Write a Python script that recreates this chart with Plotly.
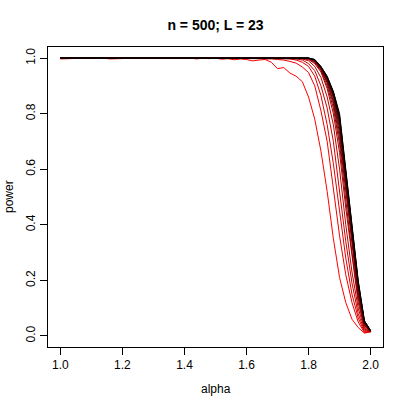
import plotly.graph_objects as go

alpha = [1.00, 1.02, 1.04, 1.06, 1.08, 1.10, 1.12, 1.14, 1.16, 1.18,
         1.20, 1.22, 1.24, 1.26, 1.28, 1.30, 1.32, 1.34, 1.36, 1.38,
         1.40, 1.42, 1.44, 1.46, 1.48, 1.50, 1.52, 1.54, 1.56, 1.58,
         1.60, 1.62, 1.64, 1.66, 1.68, 1.70, 1.72, 1.74, 1.76, 1.78,
         1.80, 1.82, 1.84, 1.86, 1.88, 1.90, 1.92, 1.94, 1.96, 1.98, 2.00]

x_ticks = [1.0, 1.2, 1.4, 1.6, 1.8, 2.0]
x_tick_labels = ["1.0", "1.2", "1.4", "1.6", "1.8", "2.0"]
y_ticks = [0.0, 0.2, 0.4, 0.6, 0.8, 1.0]
y_tick_labels = ["0.0", "0.2", "0.4", "0.6", "0.8", "1.0"]

power_01 = [0.997, 0.998, 1.0, 1.0, 1.0, 1.0, 1.0, 1.0, 0.997, 0.998,
            1.0, 1.0, 1.0, 1.0, 1.0, 1.0, 1.0, 1.0, 1.0, 1.0,
            1.0, 1.0, 0.997, 1.0, 0.998, 1.0, 0.996, 0.998, 0.994, 0.997,
            0.995, 0.99, 0.993, 0.995, 0.985, 0.962, 0.966, 0.946, 0.935, 0.915,
            0.86, 0.78, 0.665, 0.52, 0.35, 0.21, 0.12, 0.06, 0.03, 0.01, 0.015]
power_02 = [1.0, 1.0, 1.0, 1.0, 1.0, 1.0, 1.0, 1.0, 1.0, 1.0,
            1.0, 1.0, 1.0, 1.0, 1.0, 1.0, 1.0, 1.0, 1.0, 1.0,
            1.0, 1.0, 1.0, 1.0, 1.0, 1.0, 0.998, 1.0, 0.998, 1.0,
            1.0, 0.998, 1.0, 0.997, 0.998, 0.995, 0.993, 0.988, 0.982, 0.968,
            0.948, 0.90, 0.81, 0.70, 0.53, 0.36, 0.22, 0.12, 0.05, 0.012, 0.015]
power_03 = [1.0, 1.0, 1.0, 1.0, 1.0, 1.0, 1.0, 1.0, 1.0, 1.0,
            1.0, 1.0, 1.0, 1.0, 1.0, 1.0, 1.0, 1.0, 1.0, 1.0,
            1.0, 1.0, 1.0, 1.0, 1.0, 1.0, 1.0, 1.0, 1.0, 1.0,
            1.0, 1.0, 1.0, 1.0, 1.0, 0.998, 0.998, 0.997, 0.993, 0.985,
            0.97, 0.935, 0.865, 0.76, 0.62, 0.45, 0.28, 0.15, 0.065, 0.015, 0.015]
power_04 = [1.0, 1.0, 1.0, 1.0, 1.0, 1.0, 1.0, 1.0, 1.0, 1.0,
            1.0, 1.0, 1.0, 1.0, 1.0, 1.0, 1.0, 1.0, 1.0, 1.0,
            1.0, 1.0, 1.0, 1.0, 1.0, 1.0, 1.0, 1.0, 1.0, 1.0,
            1.0, 1.0, 1.0, 1.0, 1.0, 1.0, 1.0, 0.999, 0.997, 0.993,
            0.98, 0.955, 0.90, 0.82, 0.70, 0.52, 0.34, 0.19, 0.08, 0.02, 0.015]
power_05 = [1.0, 1.0, 1.0, 1.0, 1.0, 1.0, 1.0, 1.0, 1.0, 1.0,
            1.0, 1.0, 1.0, 1.0, 1.0, 1.0, 1.0, 1.0, 1.0, 1.0,
            1.0, 1.0, 1.0, 1.0, 1.0, 1.0, 1.0, 1.0, 1.0, 1.0,
            1.0, 1.0, 1.0, 1.0, 1.0, 1.0, 1.0, 1.0, 0.999, 0.997,
            0.99, 0.97, 0.93, 0.86, 0.76, 0.60, 0.40, 0.23, 0.10, 0.025, 0.015]
power_06 = [1.0, 1.0, 1.0, 1.0, 1.0, 1.0, 1.0, 1.0, 1.0, 1.0,
            1.0, 1.0, 1.0, 1.0, 1.0, 1.0, 1.0, 1.0, 1.0, 1.0,
            1.0, 1.0, 1.0, 1.0, 1.0, 1.0, 1.0, 1.0, 1.0, 1.0,
            1.0, 1.0, 1.0, 1.0, 1.0, 1.0, 1.0, 1.0, 1.0, 0.999,
            0.995, 0.98, 0.95, 0.89, 0.80, 0.66, 0.46, 0.28, 0.12, 0.03, 0.015]
power_07 = [1.0, 1.0, 1.0, 1.0, 1.0, 1.0, 1.0, 1.0, 1.0, 1.0,
            1.0, 1.0, 1.0, 1.0, 1.0, 1.0, 1.0, 1.0, 1.0, 1.0,
            1.0, 1.0, 1.0, 1.0, 1.0, 1.0, 1.0, 1.0, 1.0, 1.0,
            1.0, 1.0, 1.0, 1.0, 1.0, 1.0, 1.0, 1.0, 1.0, 1.0,
            0.997, 0.984, 0.955, 0.90, 0.82, 0.69, 0.49, 0.30, 0.135, 0.035, 0.016]
power_08 = [1.0, 1.0, 1.0, 1.0, 1.0, 1.0, 1.0, 1.0, 1.0, 1.0,
            1.0, 1.0, 1.0, 1.0, 1.0, 1.0, 1.0, 1.0, 1.0, 1.0,
            1.0, 1.0, 1.0, 1.0, 1.0, 1.0, 1.0, 1.0, 1.0, 1.0,
            1.0, 1.0, 1.0, 1.0, 1.0, 1.0, 1.0, 1.0, 1.0, 1.0,
            0.998, 0.987, 0.958, 0.91, 0.835, 0.71, 0.515, 0.32, 0.145, 0.038, 0.016]
power_09 = [1.0, 1.0, 1.0, 1.0, 1.0, 1.0, 1.0, 1.0, 1.0, 1.0,
            1.0, 1.0, 1.0, 1.0, 1.0, 1.0, 1.0, 1.0, 1.0, 1.0,
            1.0, 1.0, 1.0, 1.0, 1.0, 1.0, 1.0, 1.0, 1.0, 1.0,
            1.0, 1.0, 1.0, 1.0, 1.0, 1.0, 1.0, 1.0, 1.0, 1.0,
            0.998, 0.989, 0.961, 0.915, 0.845, 0.73, 0.535, 0.335, 0.155, 0.041, 0.017]
power_10 = [1.0, 1.0, 1.0, 1.0, 1.0, 1.0, 1.0, 1.0, 1.0, 1.0,
            1.0, 1.0, 1.0, 1.0, 1.0, 1.0, 1.0, 1.0, 1.0, 1.0,
            1.0, 1.0, 1.0, 1.0, 1.0, 1.0, 1.0, 1.0, 1.0, 1.0,
            1.0, 1.0, 1.0, 1.0, 1.0, 1.0, 1.0, 1.0, 1.0, 1.0,
            0.999, 0.99, 0.963, 0.92, 0.855, 0.745, 0.55, 0.35, 0.165, 0.044, 0.017]
power_11 = [1.0, 1.0, 1.0, 1.0, 1.0, 1.0, 1.0, 1.0, 1.0, 1.0,
            1.0, 1.0, 1.0, 1.0, 1.0, 1.0, 1.0, 1.0, 1.0, 1.0,
            1.0, 1.0, 1.0, 1.0, 1.0, 1.0, 1.0, 1.0, 1.0, 1.0,
            1.0, 1.0, 1.0, 1.0, 1.0, 1.0, 1.0, 1.0, 1.0, 1.0,
            0.999, 0.991, 0.965, 0.923, 0.862, 0.758, 0.565, 0.362, 0.173, 0.047, 0.018]
power_12 = [1.0, 1.0, 1.0, 1.0, 1.0, 1.0, 1.0, 1.0, 1.0, 1.0,
            1.0, 1.0, 1.0, 1.0, 1.0, 1.0, 1.0, 1.0, 1.0, 1.0,
            1.0, 1.0, 1.0, 1.0, 1.0, 1.0, 1.0, 1.0, 1.0, 1.0,
            1.0, 1.0, 1.0, 1.0, 1.0, 1.0, 1.0, 1.0, 1.0, 1.0,
            1.0, 0.992, 0.966, 0.926, 0.868, 0.769, 0.578, 0.373, 0.18, 0.049, 0.018]
power_13 = [1.0, 1.0, 1.0, 1.0, 1.0, 1.0, 1.0, 1.0, 1.0, 1.0,
            1.0, 1.0, 1.0, 1.0, 1.0, 1.0, 1.0, 1.0, 1.0, 1.0,
            1.0, 1.0, 1.0, 1.0, 1.0, 1.0, 1.0, 1.0, 1.0, 1.0,
            1.0, 1.0, 1.0, 1.0, 1.0, 1.0, 1.0, 1.0, 1.0, 1.0,
            1.0, 0.993, 0.967, 0.929, 0.872, 0.778, 0.589, 0.382, 0.186, 0.051, 0.018]
power_14 = [1.0, 1.0, 1.0, 1.0, 1.0, 1.0, 1.0, 1.0, 1.0, 1.0,
            1.0, 1.0, 1.0, 1.0, 1.0, 1.0, 1.0, 1.0, 1.0, 1.0,
            1.0, 1.0, 1.0, 1.0, 1.0, 1.0, 1.0, 1.0, 1.0, 1.0,
            1.0, 1.0, 1.0, 1.0, 1.0, 1.0, 1.0, 1.0, 1.0, 1.0,
            1.0, 0.994, 0.968, 0.931, 0.876, 0.786, 0.598, 0.39, 0.192, 0.053, 0.019]
power_15 = [1.0, 1.0, 1.0, 1.0, 1.0, 1.0, 1.0, 1.0, 1.0, 1.0,
            1.0, 1.0, 1.0, 1.0, 1.0, 1.0, 1.0, 1.0, 1.0, 1.0,
            1.0, 1.0, 1.0, 1.0, 1.0, 1.0, 1.0, 1.0, 1.0, 1.0,
            1.0, 1.0, 1.0, 1.0, 1.0, 1.0, 1.0, 1.0, 1.0, 1.0,
            1.0, 0.995, 0.969, 0.933, 0.878, 0.793, 0.605, 0.396, 0.196, 0.054, 0.019]
power_16 = [1.0, 1.0, 1.0, 1.0, 1.0, 1.0, 1.0, 1.0, 1.0, 1.0,
            1.0, 1.0, 1.0, 1.0, 1.0, 1.0, 1.0, 1.0, 1.0, 1.0,
            1.0, 1.0, 1.0, 1.0, 1.0, 1.0, 1.0, 1.0, 1.0, 1.0,
            1.0, 1.0, 1.0, 1.0, 1.0, 1.0, 1.0, 1.0, 1.0, 1.0,
            1.0, 0.995, 0.97, 0.935, 0.88, 0.80, 0.61, 0.40, 0.20, 0.055, 0.02]

curves = [power_01, power_02, power_03, power_04, power_05, power_06, power_07, power_08,
          power_09, power_10, power_11, power_12, power_13, power_14, power_15, power_16]

line_colors = ["#FF0000", "#EE0000", "#DD0000", "#CC0000", "#BB0000", "#AA0000", "#990000", "#880000",
               "#770000", "#660000", "#550000", "#440000", "#330000", "#220000", "#110000", "#000000"]

fig = go.Figure()
for vals, col in zip(curves, line_colors):
    fig.add_trace(go.Scatter(x=alpha, y=vals, mode="lines",
                             line=dict(color=col, width=1), showlegend=False,
                             hoverinfo="skip"))

font_family = "Liberation Sans, Arial, Helvetica, sans-serif"

fig.update_layout(
    width=407, height=407,
    margin=dict(l=48, r=24, t=47, b=60, autoexpand=False),
    paper_bgcolor="white", plot_bgcolor="white",
    font=dict(family=font_family, size=12, color="black"),
    title=dict(text="<b>n = 500; L = 23</b>", x=(48 + 383) / 2 / 407, xanchor="center",
               y=1 - 25 / 407, yanchor="middle",
               font=dict(family=font_family, size=14, color="black")),
    xaxis=dict(range=[0.96, 2.04], tickvals=x_ticks, ticktext=x_tick_labels,
               ticks="outside", ticklen=7, tickwidth=1, tickcolor="black",
               showline=True, linecolor="black", linewidth=1, mirror=True,
               showgrid=False, zeroline=False, tickfont=dict(size=12), automargin=False),
    yaxis=dict(range=[-0.04, 1.04], tickvals=y_ticks, ticktext=y_tick_labels,
               ticks="outside", ticklen=7, tickwidth=1, tickcolor="black",
               showline=True, linecolor="black", linewidth=1, mirror=True,
               showgrid=False, zeroline=False, tickangle=-90, tickfont=dict(size=12),
               automargin=False),
    annotations=[
        dict(text="alpha", xref="paper", yref="paper", x=0.5, y=(347 - 389) / 300,
             xanchor="center", yanchor="middle", showarrow=False,
             font=dict(family=font_family, size=12, color="black")),
        dict(text="power", xref="paper", yref="paper", x=(9 - 48) / 335, y=0.5,
             xanchor="center", yanchor="middle", showarrow=False, textangle=-90,
             font=dict(family=font_family, size=12, color="black")),
    ],
)

fig.write_html("out.html", config={"displayModeBar": False},
               post_script="document.body.style.margin='0';")
